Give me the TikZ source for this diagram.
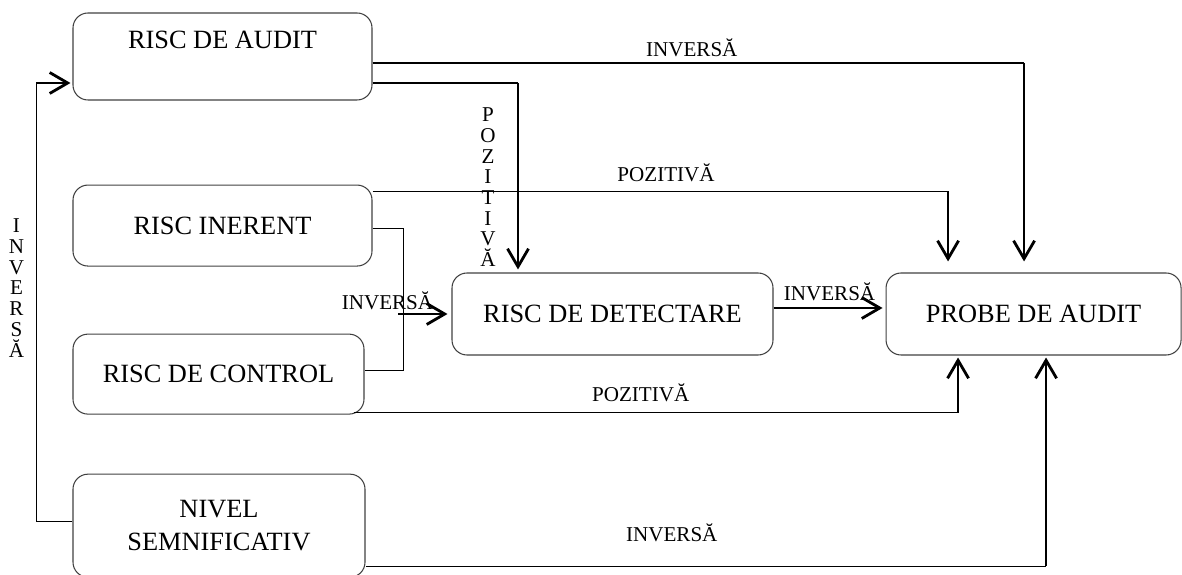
\documentclass[tikz,border=0pt]{standalone}
\usepackage{fontspec}
\setmainfont{Liberation Serif}
\usetikzlibrary{positioning,arrows.meta}

\begin{document}
\begin{tikzpicture}[
	box/.style={draw=black!75, line width=0.6pt, rounded corners=0.3cm, align=center,
		minimum width=5.98cm, minimum height=1.64cm, font=\fontsize{15}{18.7}\selectfont},
	lbl/.style={font=\fontsize{12}{12}\selectfont, inner sep=0pt},
	vlbl/.style={align=center, font=\fontsize{12}{11.8}\selectfont, inner sep=0pt},
	link/.style={line width=0.6pt},
	arr/.style={line width=1.6pt, -{Straight Barb[length=0.36cm, width=0.42cm]}}]
	\useasboundingbox (0,0) rectangle (23.64,-11.5);
	\node[box, minimum height=1.74cm] (audit) at (4.45,-1.13) {RISC DE AUDIT\\ \mbox{}};
	\node[box, minimum height=1.62cm, below=1.68cm of audit] (inerent) {RISC INERENT};
	\node[box, minimum width=5.82cm, minimum height=1.6cm, below=1.34cm of inerent.south west, anchor=north west] (control) {RISC DE CONTROL};
	\node[box, minimum width=5.84cm, minimum height=2.06cm, below=1.18cm of control.south west, anchor=north west] (nivel) {NIVEL\\SEMNIFICATIV};
	\node[box, minimum width=6.42cm] (detect) at (12.25,-6.28) {RISC DE DETECTARE};
	\node[box, minimum width=5.9cm, right=2.24cm of detect] (probe) {PROBE DE AUDIT};
	% audit -> probe
	\coordinate (a1) at ([yshift=-0.13cm]audit.east);
	\coordinate (e1) at ([xshift=-0.19cm]probe.north);
	\draw[link] (a1) -- node[lbl, pos=0.49, yshift=0.31cm] {INVERSĂ} (e1 |- a1);
	\draw[arr, shorten >=0.22cm] (e1 |- a1) -- (e1);
	% audit -> detect
	\coordinate (a2) at ([yshift=-0.53cm]audit.east);
	\coordinate (e2) at ([xshift=-1.89cm]detect.north);
	\draw[link] (a2) -- (e2 |- a2);
	\draw[arr, shorten >=0.06cm] (e2 |- a2) -- node[vlbl, pos=0.55, xshift=-0.6cm] {P\\O\\Z\\I\\T\\I\\V\\Ă} (e2);
	% inerent -> probe
	\coordinate (a3) at ([yshift=0.69cm]inerent.east);
	\coordinate (e3) at ([xshift=-1.71cm]probe.north);
	\draw[link] (a3) -- node[lbl, pos=0.51, yshift=0.36cm] {POZITIVĂ} (e3 |- a3);
	\draw[arr, shorten >=0.22cm] (e3 |- a3) -- (e3);
	% inerent, control -> detect
	\coordinate (k4) at ([xshift=-0.96cm]detect.west);
	\draw[link] ([yshift=-0.05cm]inerent.east) -| (k4) |- ([yshift=0.08cm]control.east);
	\draw[arr, shorten >=0.08cm] ([xshift=-0.1cm]k4) -- node[lbl, pos=0, xshift=-0.22cm, yshift=0.26cm] {INVERSĂ} (detect.west);
	% detect -> probe
	\coordinate (a5) at ([yshift=0.12cm]detect.east);
	\draw[arr, shorten >=0.06cm] (a5) -- node[lbl, yshift=0.32cm] {INVERSĂ} (probe.west |- a5);
	% control -> probe
	\coordinate (a6) at ([xshift=-0.22cm, yshift=0.04cm]control.south east);
	\coordinate (e6) at ([xshift=-1.51cm]probe.south);
	\draw[link] (a6) -- node[lbl, pos=0.475, yshift=0.4cm] {POZITIVĂ} (e6 |- a6);
	\draw[arr, shorten >=0.04cm] (e6 |- a6) -- (e6);
	% nivel -> probe
	\coordinate (a7) at ([yshift=-0.81cm]nivel.east);
	\coordinate (e7) at ([xshift=0.25cm]probe.south);
	\draw[link] (a7) -- node[lbl, pos=0.45, yshift=0.66cm] {INVERSĂ} (e7 |- a7);
	\draw[arr, shorten >=0.04cm] (e7 |- a7) -- (e7);
	% nivel -> audit
	\coordinate (e8) at ([yshift=-0.53cm]audit.west);
	\coordinate (k8) at ([xshift=-0.72cm]e8);
	\draw[link] ([yshift=0.09cm]nivel.west) -| node[vlbl, pos=0.766, xshift=-0.4cm] {I\\N\\V\\E\\R\\S\\Ă} (k8);
	\draw[arr, shorten >=0.04cm] (k8) -- (e8);
\end{tikzpicture}
\end{document}
